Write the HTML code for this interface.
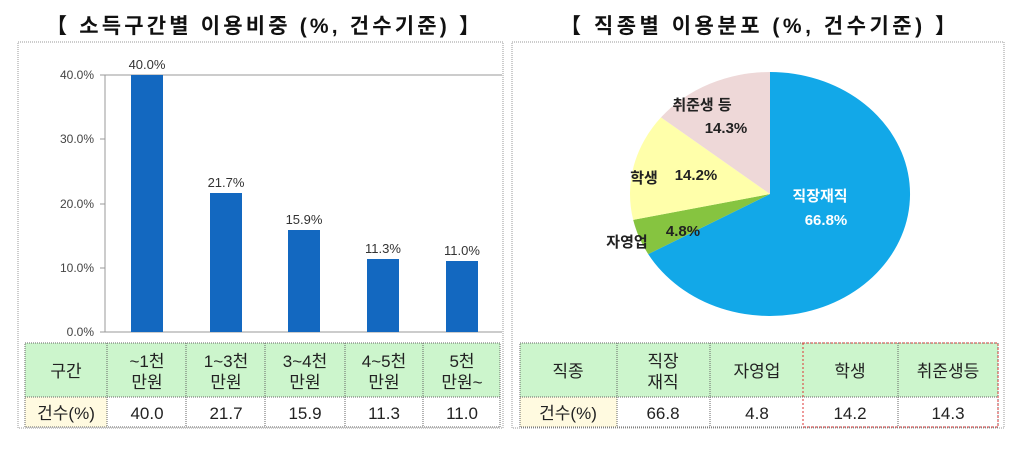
<!DOCTYPE html>
<html><head><meta charset="utf-8"><style>
body{margin:0;background:#fff;}
text{font-family:"Liberation Sans","Noto Sans CJK KR",sans-serif;}
</style></head><body>
<svg width="1024" height="444" xmlns="http://www.w3.org/2000/svg">
<rect width="1024" height="444" fill="#fff"/>
<!-- titles -->
<text x="46" y="33" font-size="21" font-weight="bold" fill="#111" textLength="434" lengthAdjust="spacing">【 소득구간별 이용비중 (%, 건수기준) 】</text>
<text x="560" y="33" font-size="21" font-weight="bold" fill="#111" textLength="396" lengthAdjust="spacing">【 직종별 이용분포 (%, 건수기준) 】</text>
<!-- panel borders -->
<rect x="18" y="42" width="485" height="386" fill="none" stroke="#999" stroke-dasharray="1,1"/>
<rect x="512" y="42" width="492" height="386" fill="none" stroke="#999" stroke-dasharray="1,1"/>
<!-- bar chart axes -->
<g stroke="#999" stroke-width="1">
<line x1="105" y1="75" x2="105" y2="332"/>
<line x1="100" y1="332" x2="502" y2="332"/>
<line x1="100" y1="75" x2="502" y2="75"/>
<line x1="100" y1="139" x2="105" y2="139"/><line x1="100" y1="204" x2="105" y2="204"/><line x1="100" y1="268" x2="105" y2="268"/>
</g>
<g font-size="12" fill="#444" text-anchor="end">
<text x="94" y="79">40.0%</text><text x="94" y="143">30.0%</text><text x="94" y="208">20.0%</text><text x="94" y="272">10.0%</text><text x="94" y="336">0.0%</text>
</g>
<g fill="#1368C0">
<rect x="131" y="75" width="32" height="257"/>
<rect x="210" y="193" width="32" height="139"/>
<rect x="288" y="230" width="32" height="102"/>
<rect x="367" y="259" width="32" height="73"/>
<rect x="446" y="261" width="32" height="71"/>
</g>
<g font-size="13" fill="#333" text-anchor="middle">
<text x="147" y="69">40.0%</text><text x="226" y="187">21.7%</text><text x="304" y="224">15.9%</text><text x="383" y="253">11.3%</text><text x="462" y="255">11.0%</text>
</g>
<!-- left table -->
<rect x="25" y="343" width="475" height="54" fill="#CCF5CC"/>
<rect x="25" y="397" width="82" height="30" fill="#FFFAE0"/>
<g stroke="#666" stroke-dasharray="1,1" fill="none">
<rect x="25" y="343" width="475" height="84"/>
<line x1="25" y1="397" x2="500" y2="397"/>
<line x1="107" y1="343" x2="107" y2="427"/><line x1="186" y1="343" x2="186" y2="427"/><line x1="265" y1="343" x2="265" y2="427"/><line x1="345" y1="343" x2="345" y2="427"/><line x1="423" y1="343" x2="423" y2="427"/>
</g>
<g font-size="17" fill="#222" text-anchor="middle">
<text x="66" y="377">구간</text>
<text x="147" y="367">~1천</text><text x="147" y="388">만원</text>
<text x="226" y="367">1~3천</text><text x="226" y="388">만원</text>
<text x="305" y="367">3~4천</text><text x="305" y="388">만원</text>
<text x="384" y="367">4~5천</text><text x="384" y="388">만원</text>
<text x="462" y="367">5천</text><text x="462" y="388">만원~</text>
<text x="66" y="419">건수(%)</text>
<text x="147" y="419">40.0</text><text x="226" y="419">21.7</text><text x="305" y="419">15.9</text><text x="384" y="419">11.3</text><text x="462" y="419">11.0</text>
</g>
<!-- pie -->
<path d="M770,194 L770,72 A140,122 0 1 1 648.2,254.1 Z" fill="#12A8E8"/>
<path d="M770,194 L648.2,254.1 A140,122 0 0 1 633.2,219.9 Z" fill="#86C440"/>
<path d="M770,194 L633.2,219.9 A140,122 0 0 1 661,117.4 Z" fill="#FFFFAA"/>
<path d="M770,194 L661,117.4 A140,122 0 0 1 770,72 Z" fill="#EED8D8"/>
<g font-size="15" font-weight="bold" text-anchor="middle">
<text x="820" y="201" fill="#fff">직장재직</text><text x="826" y="225" fill="#fff">66.8%</text>
<text x="702" y="110" fill="#222">취준생 등</text><text x="726" y="133" fill="#222">14.3%</text>
<text x="644" y="183" fill="#222">학생</text><text x="696" y="180" fill="#222">14.2%</text>
<text x="627" y="247" fill="#222">자영업</text><text x="683" y="236" fill="#222">4.8%</text>
</g>
<!-- right table -->
<rect x="520" y="343" width="478" height="54" fill="#CCF5CC"/>
<rect x="520" y="397" width="97" height="30" fill="#FFFAE0"/>
<g stroke="#666" stroke-dasharray="1,1" fill="none">
<rect x="520" y="343" width="478" height="84"/>
<line x1="520" y1="397" x2="998" y2="397"/>
<line x1="617" y1="343" x2="617" y2="427"/><line x1="710" y1="343" x2="710" y2="427"/><line x1="898" y1="343" x2="898" y2="427"/>
</g>
<rect x="803" y="343" width="195" height="84" fill="none" stroke="#d33" stroke-dasharray="2,2"/>
<g font-size="17" fill="#222" text-anchor="middle">
<text x="568" y="377">직종</text>
<text x="663" y="367">직장</text><text x="663" y="388">재직</text>
<text x="757" y="377">자영업</text>
<text x="850" y="377">학생</text>
<text x="948" y="377">취준생등</text>
<text x="568" y="419">건수(%)</text>
<text x="663" y="419">66.8</text><text x="757" y="419">4.8</text><text x="850" y="419">14.2</text><text x="948" y="419">14.3</text>
</g>
</svg>
</body></html>
